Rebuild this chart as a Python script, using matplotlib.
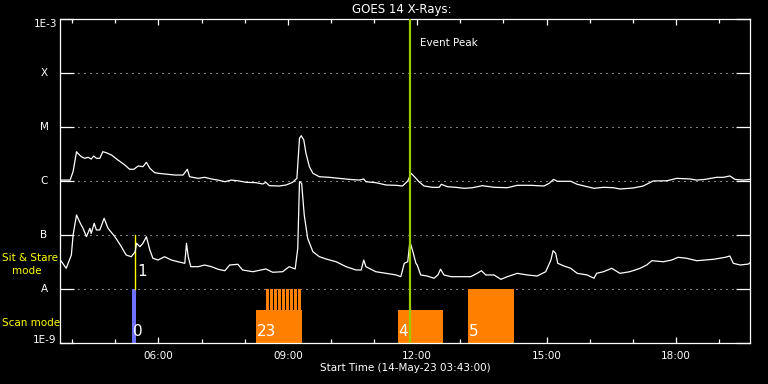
import matplotlib
matplotlib.use('Agg')
import matplotlib.pyplot as plt
from matplotlib.ticker import FixedLocator, NullLocator, FuncFormatter


# goes 14 x-ray flux, times are decimal hours on 14-May-23
# long = upper curve (1-8 A), short = lower curve (0.5-4 A)
long_time = [3.74, 3.95, 4.02, 4.10, 4.13, 4.21, 4.29, 4.37, 4.44, 4.50,
             4.56, 4.64, 4.71, 4.79, 4.91, 5.06, 5.22, 5.33, 5.43, 5.53,
             5.64, 5.72, 5.80, 5.91, 5.99, 6.14, 6.38, 6.57, 6.67, 6.72,
             6.92, 7.07, 7.23, 7.38, 7.54, 7.69, 7.84, 8.03, 8.26, 8.42,
             8.49, 8.57, 8.80, 8.96, 9.11, 9.21, 9.27, 9.31, 9.37, 9.42,
             9.50, 9.58, 9.73, 9.96, 10.19, 10.43, 10.66, 10.76, 10.81, 11.04,
             11.28, 11.51, 11.66, 11.78, 11.86, 11.97, 12.04, 12.16, 12.35, 12.51,
             12.56, 12.70, 12.89, 13.09, 13.28, 13.51, 13.78, 14.09, 14.32, 14.63,
             14.94, 15.06, 15.16, 15.25, 15.56, 15.71, 15.94, 16.10, 16.32, 16.55,
             16.70, 17.01, 17.24, 17.47, 17.79, 18.02, 18.33, 18.48, 18.67, 18.94,
             19.10, 19.25, 19.37, 19.56, 19.72]
long_flux = [1.04e-6, 1.04e-6, 1.49e-6, 3.49e-6, 3.26e-6, 2.82e-6, 2.63e-6, 2.75e-6, 2.55e-6, 2.90e-6,
             2.63e-6, 2.63e-6, 3.49e-6, 3.34e-6, 3.03e-6, 2.45e-6, 1.98e-6, 1.65e-6, 1.65e-6, 1.90e-6,
             1.84e-6, 2.22e-6, 1.72e-6, 1.43e-6, 1.39e-6, 1.35e-6, 1.29e-6, 1.29e-6, 1.65e-6, 1.20e-6,
             1.12e-6, 1.17e-6, 1.09e-6, 1.04e-6, 9.70e-7, 1.04e-6, 1.01e-6, 9.46e-7, 9.31e-7, 8.80e-7,
             9.46e-7, 8.19e-7, 8.08e-7, 8.43e-7, 9.46e-7, 1.12e-6, 6.18e-6, 6.90e-6, 5.74e-6, 3.26e-6,
             1.84e-6, 1.39e-6, 1.20e-6, 1.17e-6, 1.12e-6, 1.07e-6, 1.04e-6, 1.09e-6, 9.70e-7, 9.31e-7,
             8.43e-7, 8.32e-7, 8.08e-7, 1.00e-6, 1.39e-6, 1.12e-6, 9.70e-7, 8.08e-7, 7.64e-7, 7.64e-7,
             8.69e-7, 7.84e-7, 7.64e-7, 7.32e-7, 7.51e-7, 8.19e-7, 7.64e-7, 7.51e-7, 8.32e-7, 8.32e-7,
             8.08e-7, 9.06e-7, 1.07e-6, 9.87e-7, 9.87e-7, 8.69e-7, 7.84e-7, 7.32e-7, 7.64e-7, 7.51e-7,
             7.11e-7, 7.42e-7, 8.08e-7, 1.00e-6, 1.01e-6, 1.12e-6, 1.09e-6, 1.04e-6, 1.07e-6, 1.17e-6,
             1.17e-6, 1.24e-6, 1.07e-6, 1.04e-6, 1.07e-6]

short_time = [3.73, 3.86, 3.98, 4.02, 4.10, 4.17, 4.25, 4.33, 4.41, 4.44,
              4.51, 4.56, 4.64, 4.74, 4.83, 4.99, 5.14, 5.25, 5.37, 5.46,
              5.49, 5.57, 5.64, 5.72, 5.80, 5.87, 5.99, 6.14, 6.30, 6.45,
              6.61, 6.65, 6.69, 6.75, 6.92, 7.07, 7.23, 7.38, 7.54, 7.65,
              7.84, 7.95, 8.19, 8.49, 8.65, 8.88, 9.03, 9.17, 9.23, 9.27,
              9.32, 9.38, 9.46, 9.58, 9.73, 9.89, 10.12, 10.35, 10.58, 10.70,
              10.76, 10.81, 11.04, 11.28, 11.51, 11.62, 11.70, 11.78, 11.83, 11.90,
              11.97, 12.00, 12.08, 12.23, 12.39, 12.48, 12.54, 12.62, 12.78, 13.01,
              13.24, 13.39, 13.49, 13.59, 13.78, 13.94, 14.09, 14.32, 14.55, 14.78,
              14.98, 15.10, 15.15, 15.21, 15.26, 15.40, 15.56, 15.71, 15.94, 16.10,
              16.16, 16.32, 16.51, 16.70, 16.93, 17.17, 17.32, 17.44, 17.71, 17.90,
              18.05, 18.25, 18.48, 18.67, 18.87, 19.14, 19.25, 19.33, 19.49, 19.68,
              19.72]
short_flux = [3.40e-8, 2.42e-8, 4.26e-8, 1.00e-7, 2.35e-7, 1.76e-7, 1.33e-7, 9.30e-8, 1.33e-7, 1.07e-7,
              1.65e-7, 1.24e-7, 1.24e-7, 2.04e-7, 1.33e-7, 9.30e-8, 6.07e-8, 4.26e-8, 3.96e-8, 4.91e-8,
              7.02e-8, 6.07e-8, 7.02e-8, 9.30e-8, 5.27e-8, 3.71e-8, 3.44e-8, 3.96e-8, 3.44e-8, 3.20e-8,
              2.99e-8, 7.02e-8, 3.96e-8, 2.59e-8, 2.59e-8, 2.78e-8, 2.59e-8, 2.32e-8, 2.18e-8, 2.78e-8,
              2.87e-8, 2.25e-8, 2.09e-8, 2.35e-8, 2.04e-8, 2.09e-8, 2.59e-8, 2.35e-8, 5.67e-8, 9.70e-7,
              9.06e-7, 2.35e-7, 8.69e-8, 4.91e-8, 3.96e-8, 3.59e-8, 3.20e-8, 2.59e-8, 2.25e-8, 2.25e-8,
              3.44e-8, 2.59e-8, 2.09e-8, 1.95e-8, 1.82e-8, 1.69e-8, 2.99e-8, 3.20e-8, 7.52e-8, 4.91e-8,
              2.99e-8, 2.78e-8, 1.82e-8, 1.74e-8, 1.58e-8, 1.82e-8, 2.32e-8, 1.82e-8, 1.69e-8, 1.69e-8,
              1.69e-8, 1.95e-8, 2.18e-8, 1.82e-8, 1.82e-8, 1.51e-8, 1.69e-8, 1.95e-8, 1.82e-8, 1.74e-8,
              2.09e-8, 3.44e-8, 5.12e-8, 4.58e-8, 2.99e-8, 2.67e-8, 2.42e-8, 1.95e-8, 1.82e-8, 1.58e-8,
              1.95e-8, 2.09e-8, 2.42e-8, 1.95e-8, 2.09e-8, 2.42e-8, 2.78e-8, 3.34e-8, 3.20e-8, 3.44e-8,
              3.86e-8, 3.71e-8, 3.34e-8, 3.44e-8, 3.55e-8, 3.86e-8, 4.08e-8, 2.99e-8, 2.78e-8, 2.90e-8,
              3.07e-8]

# flare class levels for the left axis
class_levels = [1e-9, 1e-8, 1e-7, 1e-6, 1e-5, 1e-4, 1e-3]
class_labels = ['1E-9', 'A', 'B', 'C', 'M', 'X', '1E-3']

# observation windows (hours), drawn as bars from the bottom of the axis
obs_labels = ['0', '23', '4', '5']
obs_start = [5.39, 8.26, 11.55, 13.18]
obs_end = [5.48, 9.32, 12.59, 14.24]
obs_top = [1e-8, 4.1e-9, 4.1e-9, 1e-8]
obs_colors = ['#7070ff', '#ff8000', '#ff8000', '#ff8000']

# thin raster stripes sitting on top of bar 23
stripe_start = [8.49, 8.59, 8.68, 8.77, 8.86, 8.96, 9.05, 9.14, 9.24]
stripe_width = 0.072

sit_stare_time = 5.46   # obs 1, sit & stare
event_peak = 11.83

start_hour = 3 + 43 / 60.0   # 03:43
end_hour = start_hour + 16


fig = plt.figure(figsize=(7.68, 3.84), dpi=100, facecolor='black')
ax = fig.add_axes([60 / 768, 41 / 384, 690 / 768, 324 / 384])
ax.set_facecolor('black')

ax.set_yscale('log')
ax.set_ylim(1e-9, 1e-3)
ax.set_xlim(start_hour, end_hour)

# dotted class lines
for lev in class_levels[1:-1]:
    ax.axhline(lev, color='white', lw=0.72, linestyle=(0, (1, 5)), zorder=1)

# scan mode bars
for s, e, top, c in zip(obs_start, obs_end, obs_top, obs_colors):
    ax.bar(s, top - 1e-9, width=e - s, bottom=1e-9, align='edge', color=c, lw=0,
           antialiased=False, zorder=2)
ax.bar(stripe_start, [1e-8 - 1e-9] * len(stripe_start), width=stripe_width, bottom=1e-9,
       align='edge', color='#ff8000', lw=0, antialiased=False, zorder=2)

# sit & stare marker
ax.plot([sit_stare_time, sit_stare_time], [1e-8, 1e-7], color='#ffff00', lw=1.0, zorder=3)

# the flux curves
ax.plot(long_time, long_flux, color='white', lw=0.9, zorder=4)
ax.plot(short_time, short_flux, color='white', lw=0.9, zorder=4)

# event peak line
ax.axvline(event_peak, color='#9ccc00', lw=1.6, zorder=5)
ax.text(event_peak + 0.24, 10 ** (-3 - 24 / 54), 'Event Peak', color='white', fontsize=7.5,
        va='center', ha='left')

# numbers on the bars
label_y = [1.6e-9, 1.6e-9, 1.6e-9, 1.6e-9]
for lab, s, y in zip(obs_labels, obs_start, label_y):
    ax.text(s + 0.02, y, lab, color='white', fontsize=11, va='center', ha='left', zorder=6)
ax.text(sit_stare_time + 0.06, 2.07e-8, '1', color='white', fontsize=11, va='center', ha='left', zorder=6)

# axis styling
for sp in ax.spines.values():
    sp.set_color('white')
    sp.set_linewidth(0.9)

ax.yaxis.set_major_locator(FixedLocator(class_levels))
ax.yaxis.set_minor_locator(NullLocator())
ax.tick_params(axis='y', which='major', direction='in', length=10, width=0.9, color='white',
               left=True, right=True, labelleft=False)

ax.xaxis.set_major_locator(FixedLocator([6, 9, 12, 15, 18]))
ax.xaxis.set_minor_locator(FixedLocator(list(range(4, 20))))
ax.xaxis.set_major_formatter(FuncFormatter(lambda h, pos: '%02d:00' % h))
ax.tick_params(axis='x', which='major', direction='in', length=4.3, width=0.9, color='white',
               top=True, bottom=True, labelcolor='white', labelsize=7.5, pad=5.5)
ax.tick_params(axis='x', which='minor', direction='in', length=2.8, width=0.9, color='white',
               top=True, bottom=True)

# class labels on the left, letters centred, numbers right aligned
ytr = ax.get_yaxis_transform()
for lev, lab in zip(class_levels, class_labels):
    if lab == '1E-3':
        ax.text(-3 / 690, lev, lab, transform=ytr, color='white', fontsize=7.5, ha='right', va='top')
    elif lab == '1E-9':
        ax.text(-4 / 690, lev, lab, transform=ytr, color='white', fontsize=7.5, ha='right', va='baseline')
    else:
        ax.text(-16 / 690, lev, lab, transform=ytr, color='white', fontsize=7.5, ha='center', va='center')

# mode labels
fig.text(2 / 768, 1 - 258 / 384, 'Sit & Stare', color='#ffff00', fontsize=7.5, va='center', ha='left')
fig.text(12 / 768, 1 - 271 / 384, 'mode', color='#ffff00', fontsize=7.5, va='center', ha='left')
fig.text(2 / 768, 1 - 323 / 384, 'Scan mode', color='#ffff00', fontsize=7.5, va='center', ha='left')

fig.text(402 / 768, 1 - 10 / 384, 'GOES 14 X-Rays:', color='white', fontsize=8.5, ha='center', va='center')
fig.text(405 / 768, 1 - 368 / 384, 'Start Time (14-May-23 03:43:00)', color='white', fontsize=7.5,
         ha='center', va='center')

fig.savefig('out.png', dpi=100, facecolor='black')
